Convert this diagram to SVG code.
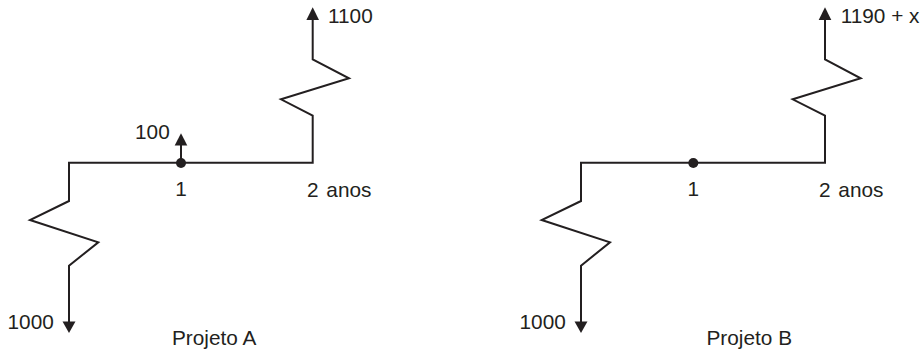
<svg xmlns="http://www.w3.org/2000/svg" width="924" height="352" viewBox="0 0 924 352">
<defs>
<style>
.ln{fill:none;stroke:#231f20;stroke-width:2;stroke-linejoin:miter}
.ah{fill:#231f20}
text{font-family:"Liberation Sans",Arial,sans-serif;font-size:20.8px;fill:#231f20}
</style>
</defs>
<rect width="924" height="352" fill="#fff"/>
<g id="connectors">
<path class="ln" d="M69,322 L69,265.7 L98.3,242.3 L30,220 L69,201 L69,162.7 L312.7,162.7 L312.7,115.7 L281,99.3 L349,78.3 L312.7,59.3 L312.7,19"/>
<path class="ln" d="M181,162.7 L181,144"/>
<path class="ln" d="M581,322 L581,265.7 L610,242.3 L541.7,220 L581,201 L581,162.7 L825,162.7 L825,115.7 L792.7,99.3 L860.7,78.3 L825,59.3 L825,19"/>
<polygon class="ah" points="312.7,7.3 319,20 306.4,20"/>
<polygon class="ah" points="181,133.3 187.3,145.5 174.7,145.5"/>
<polygon class="ah" points="69,333 75.5,321.5 62.5,321.5"/>
<polygon class="ah" points="825,7.3 831.3,20 818.7,20"/>
<polygon class="ah" points="581,333 587.5,321.5 574.5,321.5"/>
</g>
<g id="projetoA">
<circle cx="181" cy="163" r="5" fill="#231f20"/>
<text x="328" y="22.7">1100</text>
<text x="135" y="139.3">100</text>
<text x="181" y="196" text-anchor="middle">1</text>
<text x="307" y="196.7" word-spacing="2">2 anos</text>
<text x="7.5" y="329.3">1000</text>
<text x="172" y="345">Projeto A</text>
</g>
<g id="projetoB">
<circle cx="693.3" cy="163" r="5" fill="#231f20"/>
<text x="840.7" y="22.7">1190 + x</text>
<text x="693.3" y="196" text-anchor="middle">1</text>
<text x="819" y="196.7" word-spacing="2">2 anos</text>
<text x="519.5" y="329.3">1000</text>
<text x="706.5" y="345">Projeto B</text>
</g>
</svg>
